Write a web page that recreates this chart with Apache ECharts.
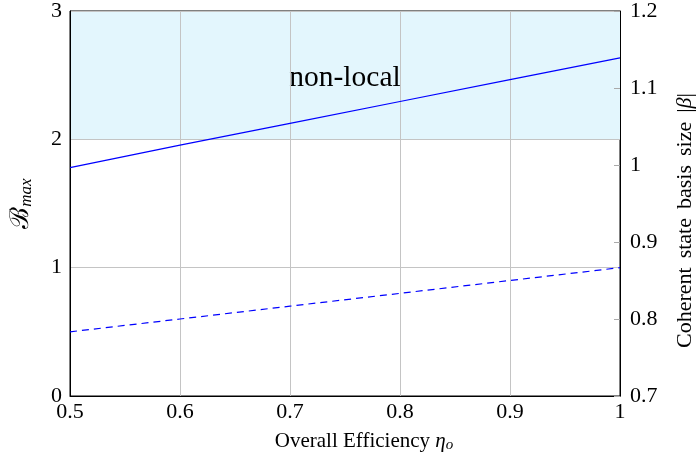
<!DOCTYPE html>
<html>
<head>
<meta charset="utf-8">
<script src="https://cdn.jsdelivr.net/npm/echarts@6/dist/echarts.min.js"></script>
<style>
  html, body { margin: 0; padding: 0; background: #fff; }
  #chart { width: 699px; height: 465px; }
</style>
</head>
<body>
<div id="chart"></div>
<script>
// Overall efficiency samples
const efficiency = [0.5, 0.6, 0.7, 0.8, 0.9, 1.0];
// Maximum Bell value B_max (left axis)
const bMax = [1.78, 1.955, 2.125, 2.295, 2.465, 2.635];
// Dashed reference curve (left axis)
const dashedRef = [0.5, 0.6, 0.7, 0.8, 0.9, 1.0];
// Tick labels
const xTicks = ['0.5', '0.6', '0.7', '0.8', '0.9', '1'];
const rightTicks = ['0.7', '0.8', '0.9', '1', '1.1', '1.2'];
// Shaded non-local band on the left axis
const nonLocalBand = [2, 3];
const bandLabel = 'non-local';

const serif = '"Liberation Serif", "DejaVu Serif", serif';

const chart = echarts.init(document.getElementById('chart'), null, { renderer: 'canvas' });

const option = {
  animation: false,
  grid: {
    left: 70, right: 79, top: 11, bottom: 69,
    show: true, borderColor: '#000', borderWidth: 1,
    containLabel: false, outerBoundsMode: 'none'
  },
  xAxis: {
    type: 'value', min: 0.5, max: 1, interval: 0.1, z: 3,
    name: '{t|Overall Efficiency }{g|η}{s|o}',
    nameLocation: 'middle', nameGap: 33,
    nameTextStyle: {
      padding: [0, 0, 0, 38],
      rich: {
        t: { fontFamily: serif, fontSize: 21, color: '#000' },
        g: { fontFamily: serif, fontSize: 21, fontStyle: 'italic', color: '#000' },
        s: { fontFamily: serif, fontSize: 15, fontStyle: 'italic', color: '#000', padding: [9, 0, 0, 0] }
      }
    },
    axisLine: { show: true, lineStyle: { color: '#000', width: 1 } },
    axisTick: { show: false },
    axisLabel: {
      margin: 5, fontFamily: serif, fontSize: 22, color: '#000',
      formatter: v => xTicks[Math.round((v - 0.5) * 10)]
    },
    splitLine: { show: true, lineStyle: { color: '#c4c4c4', width: 1 } }
  },
  yAxis: [
    {
      type: 'value', min: 0, max: 3, interval: 1, position: 'left', z: 3,
      name: '{b|ℬ}{s|max}',
      nameLocation: 'middle', nameGap: 35, nameRotate: 90,
      nameTextStyle: {
        rich: {
          b: { fontFamily: '"DejaVu Serif", serif', fontSize: 26, color: '#000' },
          s: { fontFamily: serif, fontSize: 17, fontStyle: 'italic', color: '#000', padding: [10, 0, 0, 0] }
        }
      },
      axisLine: { show: true, lineStyle: { color: '#000', width: 1 } },
      axisTick: { show: false },
      axisLabel: { margin: 8, fontFamily: serif, fontSize: 22, color: '#000' },
      splitLine: { show: true, lineStyle: { color: '#c4c4c4', width: 1 } }
    },
    {
      type: 'value', min: 0.7, max: 1.2, interval: 0.1, position: 'right', z: 3,
      name: '{t|Coherent}{sp|}{t|state}{sp|}{t|basis}{sp|}{t|size}{sp|}{t||}{g|β}{t||}',
      nameLocation: 'middle', nameGap: 54, nameRotate: 90,
      nameTextStyle: {
        padding: [0, 34, 0, 0],
        rich: {
          t: { fontFamily: serif, fontSize: 22, color: '#000' },
          g: { fontFamily: serif, fontSize: 22, fontStyle: 'italic', color: '#000' },
          sp: { width: 9 }
        }
      },
      axisLine: { show: true, lineStyle: { color: '#000', width: 1 } },
      axisTick: { show: true, inside: true, length: 6, lineStyle: { color: '#aaa' } },
      axisLabel: {
        margin: 10, fontFamily: serif, fontSize: 22, color: '#000',
        formatter: v => rightTicks[Math.round((v - 0.7) * 10)]
      },
      splitLine: { show: false }
    }
  ],
  series: [
    {
      // shaded band sits beneath the grid lines
      type: 'line', yAxisIndex: 0, symbol: 'none', z: 1,
      data: [],
      markArea: {
        silent: true,
        itemStyle: { color: '#e3f6fd' },
        label: { show: true, position: 'inside', offset: [0, 3], color: '#000', fontFamily: serif, fontSize: 29.5 },
        data: [[{ name: bandLabel, yAxis: nonLocalBand[0] }, { yAxis: nonLocalBand[1] }]]
      }
    },
    {
      type: 'line', yAxisIndex: 0, symbol: 'none',
      data: efficiency.map((x, i) => [x, bMax[i]]),
      lineStyle: { color: '#0000ff', width: 1.2 },
      z: 5
    },
    {
      type: 'line', yAxisIndex: 0, symbol: 'none',
      data: efficiency.map((x, i) => [x, dashedRef[i]]),
      lineStyle: { color: '#0000ff', width: 1.2, type: [7, 5] },
      z: 5
    }
  ]
};

chart.setOption(option);
</script>
</body>
</html>
